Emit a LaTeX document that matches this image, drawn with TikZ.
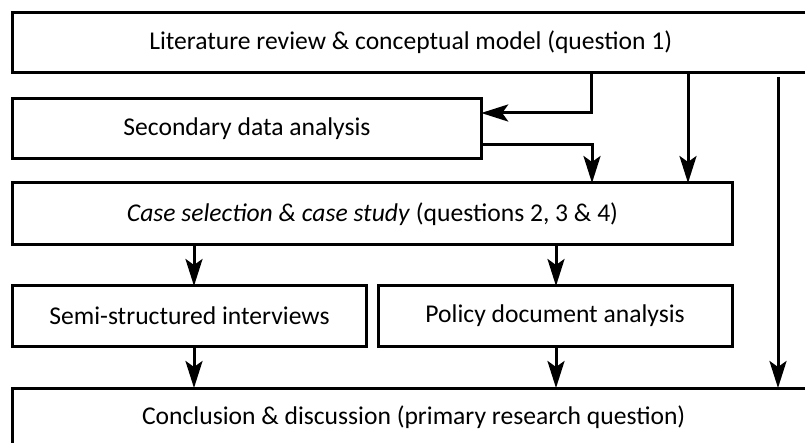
\documentclass[tikz,border=0pt]{standalone}
\usepackage{fontspec}
\setmainfont{Carlito}
\usetikzlibrary{arrows.meta}
\begin{document}
\begin{tikzpicture}[x=1pt,y=-1pt,
  font=\fontsize{25.6}{30}\selectfont,
  stagebox/.style={draw, line width=3pt, rectangle, inner sep=0pt, outer sep=0pt,
    anchor=north west, align=center},
  flow/.style={line width=3pt, -{Stealth[length=27pt,width=17pt,inset=6pt]}}]
\useasboundingbox (0,0) rectangle (805,443);
\clip (0,0) rectangle (805,443);
\fill[white] (0,0) rectangle (805,443);

% stages of the research design
\node[stagebox, minimum width=796pt, minimum height=59.6pt] (top) at (12.7,12.7)
  {Literature review \& conceptual model (question 1)};
\node[stagebox, minimum width=468.5pt, minimum height=60.7pt] (sec) at (12.7,98.3)
  {Secondary data analysis};
\node[stagebox, minimum width=719.5pt, minimum height=62pt] (case) at (12.7,183)
  {\textit{Case selection \& case study} (questions 2, 3 \& 4)};
\node[stagebox, minimum width=353.5pt, minimum height=60pt] (semi) at (12.7,286)
  {Semi-structured interviews};
\node[stagebox, minimum width=354.2pt, minimum height=60pt] (pol) at (378,286)
  {Policy document analysis};
\node[stagebox, minimum width=802pt, minimum height=58pt] (bot) at (12.7,388)
  {Conclusion \& discussion (primary research question)};

% routing points for the connectors
\coordinate (k1) at (591,113);
\coordinate (k2) at (592,145);
\coordinate (k3) at (688,0);
\coordinate (k4) at (778,77);
\coordinate (k5) at (194,0);
\coordinate (k6) at (556,0);

% connectors
\draw[flow] (k1 |- top.south) -- (k1) -- (k1 -| sec.east);
\draw[flow] (k2 -| sec.east) -- (k2) -- (k2 |- case.north);
\draw[flow] (k3 |- top.south) -- (k3 |- case.north);
\draw[flow] (k4) -- (k4 |- bot.north);
\draw[flow] (k5 |- case.south) -- (k5 |- semi.north);
\draw[flow] (k6 |- case.south) -- (k6 |- pol.north);
\draw[flow] (k5 |- semi.south) -- (k5 |- bot.north);
\draw[flow] (k6 |- pol.south) -- (k6 |- bot.north);
\end{tikzpicture}
\end{document}
